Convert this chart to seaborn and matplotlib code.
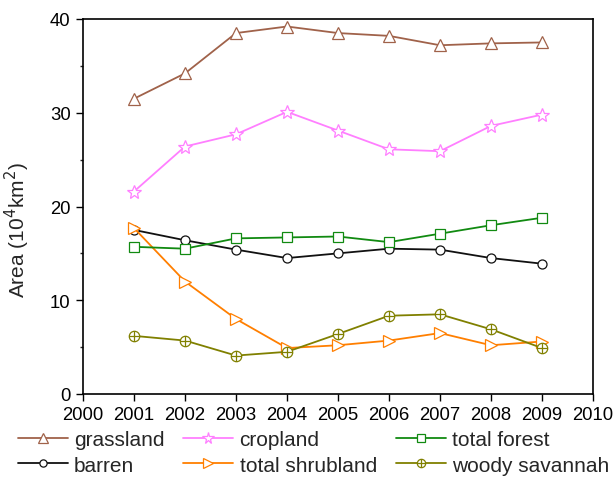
import numpy as np
import pandas as pd
import matplotlib
matplotlib.use("Agg")
import matplotlib.pyplot as plt
import matplotlib.path as mpath
import seaborn as sns

years = [2001, 2002, 2003, 2004, 2005, 2006, 2007, 2008, 2009]
grassland = [31.5, 34.2, 38.5, 39.2, 38.5, 38.2, 37.2, 37.4, 37.5]
cropland = [21.6, 26.4, 27.7, 30.1, 28.1, 26.1, 25.9, 28.6, 29.8]
total_forest = [15.7, 15.5, 16.6, 16.7, 16.8, 16.2, 17.1, 18.0, 18.8]
barren = [17.5, 16.4, 15.4, 14.5, 15.0, 15.5, 15.4, 14.5, 13.9]
total_shrubland = [17.7, 12.0, 8.0, 4.9, 5.2, 5.7, 6.5, 5.2, 5.6]
woody_savannah = [6.2, 5.7, 4.1, 4.5, 6.4, 8.35, 8.5, 6.9, 4.9]

x_ticks = list(range(2000, 2011))
y_ticks = [0, 10, 20, 30, 40]

sns.set_style("white")
plt.rcParams['font.family'] = ['Liberation Sans', 'DejaVu Sans']

# circle with plus marker
circ = mpath.Path.unit_circle()
plus = mpath.Path([[-1, 0], [1, 0], [0, -1], [0, 1]],
                  [mpath.Path.MOVETO, mpath.Path.LINETO, mpath.Path.MOVETO, mpath.Path.LINETO])
oplus = mpath.Path.make_compound_path(circ, plus)

series = [
    ("grassland", grassland, "#a0624a", "^", 8.5),
    ("barren", barren, "#111111", "o", 6.5),
    ("cropland", cropland, "#ff7fff", "*", 10.5),
    ("total shrubland", total_shrubland, "#ff7f00", ">", 8.5),
    ("total forest", total_forest, "#118a11", "s", 6.5),
    ("woody savannah", woody_savannah, "#808000", oplus, 7.5),
]

fig = plt.figure(figsize=(6.14, 4.81), dpi=100)
ax = fig.add_axes([83/614, 1-395/481, 510/614, 375/481])

for name, vals, col, mk, ms in series:
    df = pd.DataFrame({"year": years, "area": vals})
    sns.lineplot(data=df, x="year", y="area", ax=ax, color=col, marker=mk,
                 markersize=ms, markerfacecolor="white", markeredgecolor=col,
                 markeredgewidth=0.9, linewidth=1.3, label=name)

ax.set_xlim(2000, 2010)
ax.set_ylim(0, 40)
ax.set_xticks(x_ticks)
ax.set_xticklabels([str(t) for t in x_ticks])
ax.set_yticks(y_ticks)
ax.set_yticks([5, 15, 25, 35], minor=True)
ax.tick_params(axis="both", which="major", direction="out", length=5, width=1,
               pad=4, labelsize=13.3, bottom=True, left=True, top=False, right=False,
               colors="black")
ax.tick_params(axis="y", which="minor", direction="out", length=2.5, width=1, left=True)
for s in ax.spines.values():
    s.set_color("black")
    s.set_linewidth(1.2)
ax.set_xlabel("")
ax.set_ylabel("Area (10$^4$km$^2$)", fontsize=15)
ax.yaxis.set_label_coords(-0.1, 0.44)

handles, labels = ax.get_legend_handles_labels()
ax.legend_.remove()
fig.legend(handles, labels, ncol=3, loc="upper left", bbox_to_anchor=(0.029, 0.103),
           frameon=False, fontsize=15, handlelength=2.4, handletextpad=0.3,
           columnspacing=0.9, labelspacing=0.3, borderpad=0.0, borderaxespad=0.0,
           markerscale=0.8)

fig.savefig("out.png", dpi=100)
